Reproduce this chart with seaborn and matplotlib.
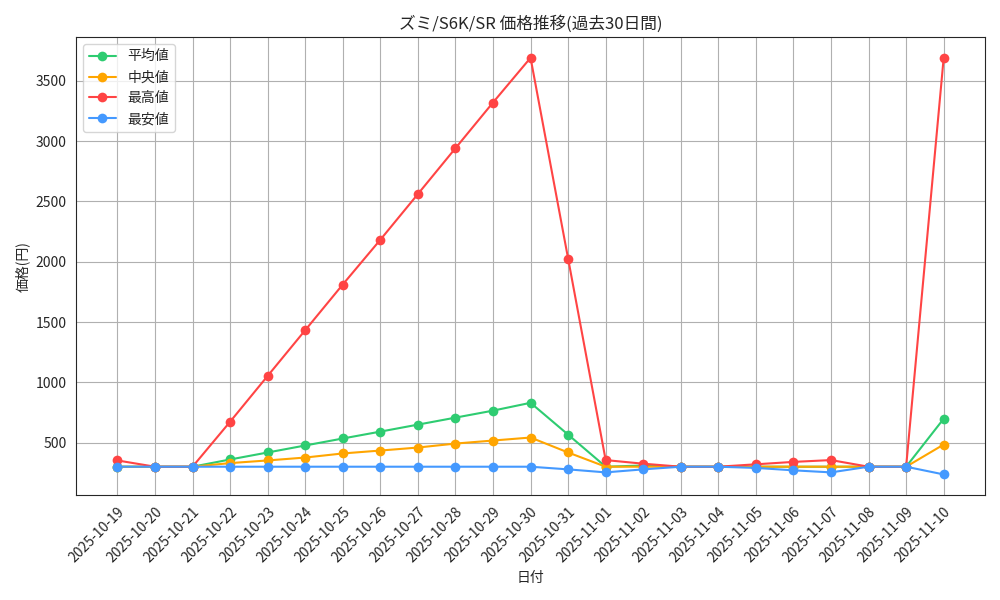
import matplotlib
matplotlib.use("Agg")
import matplotlib.pyplot as plt
import seaborn as sns
import pandas as pd

sns.set_style("white")
plt.rcParams['font.family'] = ['Noto Sans CJK JP', 'DejaVu Sans']

dates = ["2025-10-19","2025-10-20","2025-10-21","2025-10-22","2025-10-23","2025-10-24","2025-10-25",
         "2025-10-26","2025-10-27","2025-10-28","2025-10-29","2025-10-30","2025-10-31","2025-11-01",
         "2025-11-02","2025-11-03","2025-11-04","2025-11-05","2025-11-06","2025-11-07","2025-11-08",
         "2025-11-09","2025-11-10"]
avg = [300,300,300,360,418,476,534,591,649,707,765,830,566,300,310,300,300,300,300,300,300,300,698]
med = [300,300,300,330,352,376,410,434,459,492,517,542,418,300,300,300,300,300,300,300,300,300,484]
high = [352,300,300,673,1053,1432,1811,2182,2561,2941,3320,3691,2026,355,325,300,300,320,340,355,300,300,3691]
low = [300,300,300,300,300,300,300,300,300,300,300,300,278,253,278,300,300,290,270,253,300,300,236]

series = [("平均値", avg, "#2ecc71"), ("中央値", med, "#ffa500"),
          ("最高値", high, "#ff4444"), ("最安値", low, "#4499ff")]

fig, ax = plt.subplots(figsize=(10, 6), dpi=100)
for name, vals, col in series:
    df = pd.DataFrame({"date": dates, "v": vals})
    sns.lineplot(data=df, x="date", y="v", ax=ax, color=col, marker="o",
                 markersize=7, markeredgewidth=0, label=name, sort=False)
ax.grid(True, color="#b0b0b0", linewidth=0.8)
ax.set_title("ズミ/S6K/SR 価格推移(過去30日間)")
ax.set_xlabel("日付")
ax.set_ylabel("価格(円)")
plt.setp(ax.get_xticklabels(), rotation=45, ha="right", rotation_mode="anchor")
ax.legend(loc="upper left")
fig.tight_layout()
fig.savefig("out.png")
